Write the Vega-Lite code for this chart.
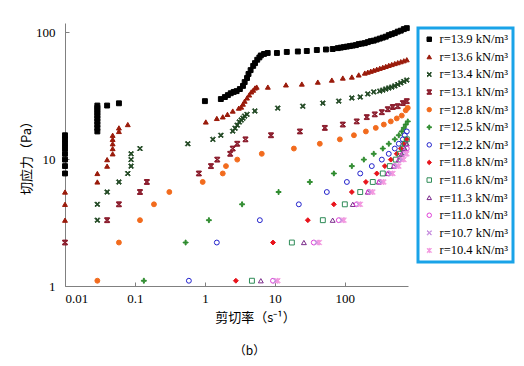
{
"$schema": "https://vega.github.io/schema/vega-lite/v6.json",
"width": 343, "height": 263,
"autosize": "none",
"padding": {"left": 65, "top": 23, "right": 116, "bottom": 80},
"background": "white",
"title": {"text": "（b）", "orient": "bottom", "anchor": "middle", "offset": 22, "dx": 13, "font": "Noto Sans CJK SC", "fontSize": 12, "fontWeight": "normal", "color": "#000"},
"config": {
  "view": {"stroke": null},
  "axis": {"grid": false, "domainColor": "#808080", "tickColor": "#808080", "labelFont": "Liberation Serif", "labelFontSize": 13, "labelColor": "#000", "titleFont": "Noto Sans CJK SC", "titleFontSize": 13, "titleFontWeight": "normal", "titleColor": "#000", "tickSize": -4},
  "legend": {"strokeColor": "#1AA3E8", "strokeWidth": 3, "padding": 5, "labelFont": "Liberation Serif", "labelFontSize": 12.5, "labelColor": "#000", "symbolSize": 20, "rowPadding": 4.6, "symbolStrokeWidth": 1}
},
"data": {"values": [
{"s":"13.9","x":0.01,"y":7.7},{"s":"13.9","x":0.01,"y":8.8},{"s":"13.9","x":0.01,"y":9.9},{"s":"13.9","x":0.01,"y":11},{"s":"13.9","x":0.01,"y":12.1},{"s":"13.9","x":0.01,"y":13.2},{"s":"13.9","x":0.01,"y":14.3},{"s":"13.9","x":0.01,"y":15.4},
{"s":"13.9","x":0.029,"y":16.5},{"s":"13.9","x":0.029,"y":17.6},{"s":"13.9","x":0.029,"y":18.7},{"s":"13.9","x":0.029,"y":19.8},{"s":"13.9","x":0.029,"y":20.9},{"s":"13.9","x":0.029,"y":22},{"s":"13.9","x":0.029,"y":23.1},{"s":"13.9","x":0.029,"y":24.2},{"s":"13.9","x":0.029,"y":25.3},{"s":"13.9","x":0.029,"y":26.4},
{"s":"13.9","x":0.04,"y":26.4},{"s":"13.9","x":0.059,"y":27.5},{"s":"13.9","x":1.0,"y":28.6},{"s":"13.9","x":1.69,"y":29.7},{"s":"13.9","x":1.93,"y":30.8},{"s":"13.9","x":2.13,"y":31.9},{"s":"13.9","x":2.34,"y":33},{"s":"13.9","x":2.58,"y":33.8},{"s":"13.9","x":2.84,"y":34.3},{"s":"13.9","x":3.16,"y":35.6},{"s":"13.9","x":3.5,"y":37.7},{"s":"13.9","x":3.7,"y":40.4},{"s":"13.9","x":4.0,"y":43.5},{"s":"13.9","x":4.2,"y":46.8},{"s":"13.9","x":4.5,"y":50.2},{"s":"13.9","x":4.9,"y":54.2},{"s":"13.9","x":5.2,"y":57},{"s":"13.9","x":5.6,"y":60.6},{"s":"13.9","x":6.0,"y":63.2},{"s":"13.9","x":6.3,"y":65.5},{"s":"13.9","x":7.0,"y":67.3},{"s":"13.9","x":7.9,"y":68.5},
{"s":"13.9","x":10.7,"y":68.5},{"s":"13.9","x":14.8,"y":69.8},{"s":"13.9","x":21.3,"y":70.4},{"s":"13.9","x":28.6,"y":71},{"s":"13.9","x":39.8,"y":72.3},{"s":"13.9","x":53.7,"y":73},{"s":"13.9","x":67,"y":73.6},
{"s":"13.9","x":79.4,"y":74.8},{"s":"13.9","x":87.7,"y":75.5},{"s":"13.9","x":96.8,"y":76.2},{"s":"13.9","x":107,"y":76.9},{"s":"13.9","x":118,"y":77.6},{"s":"13.9","x":130,"y":78.3},{"s":"13.9","x":144,"y":79},{"s":"13.9","x":158,"y":80.5},{"s":"13.9","x":175,"y":81.2},{"s":"13.9","x":193,"y":81.9},{"s":"13.9","x":213,"y":83.4},{"s":"13.9","x":235,"y":84.9},{"s":"13.9","x":259,"y":85.7},{"s":"13.9","x":286,"y":87.3},{"s":"13.9","x":316,"y":88.9},{"s":"13.9","x":349,"y":90.5},{"s":"13.9","x":385,"y":92.1},{"s":"13.9","x":425,"y":94.7},{"s":"13.9","x":469,"y":96.4},{"s":"13.9","x":518,"y":98.2},{"s":"13.9","x":571,"y":100.9},{"s":"13.9","x":631,"y":102.7},{"s":"13.9","x":697,"y":105.6},{"s":"13.9","x":769,"y":107.5},
{"s":"13.6","x":0.01,"y":3.3},{"s":"13.6","x":0.01,"y":4.4},{"s":"13.6","x":0.01,"y":5.5},{"s":"13.6","x":0.029,"y":6.6},{"s":"13.6","x":0.029,"y":7.7},{"s":"13.6","x":0.04,"y":8.8},{"s":"13.6","x":0.04,"y":9.9},{"s":"13.6","x":0.048,"y":11},{"s":"13.6","x":0.048,"y":12.1},{"s":"13.6","x":0.048,"y":13.2},{"s":"13.6","x":0.048,"y":14.3},{"s":"13.6","x":0.048,"y":15.4},{"s":"13.6","x":0.059,"y":16.5},{"s":"13.6","x":0.059,"y":17.6},{"s":"13.6","x":0.079,"y":18.7},
{"s":"13.6","x":1.03,"y":19.6},{"s":"13.6","x":1.48,"y":20.9},{"s":"13.6","x":1.8,"y":21.5},{"s":"13.6","x":2.1,"y":22.5},{"s":"13.6","x":2.5,"y":23.9},{"s":"13.6","x":3.05,"y":25.2},{"s":"13.6","x":3.3,"y":25.7},{"s":"13.6","x":3.5,"y":27.1},{"s":"13.6","x":3.7,"y":28.6},{"s":"13.6","x":4.0,"y":30.3},{"s":"13.6","x":4.3,"y":32},{"s":"13.6","x":4.6,"y":33.8},{"s":"13.6","x":4.9,"y":34.9},{"s":"13.6","x":5.2,"y":36.3},{"s":"13.6","x":5.5,"y":36.9},{"s":"13.6","x":7.94,"y":36.9},{"s":"13.6","x":14.4,"y":38.4},{"s":"13.6","x":24.3,"y":39},{"s":"13.6","x":41.1,"y":40.4},{"s":"13.6","x":65.2,"y":41.9},{"s":"13.6","x":93.6,"y":43.5},{"s":"13.6","x":126,"y":44.3},{"s":"13.6","x":158,"y":46},{"s":"13.6","x":193,"y":47.6},{"s":"13.6","x":213,"y":48.4},{"s":"13.6","x":235,"y":49.2},{"s":"13.6","x":259,"y":50.1},{"s":"13.6","x":286,"y":51},{"s":"13.6","x":316,"y":51.9},{"s":"13.6","x":349,"y":52.8},{"s":"13.6","x":385,"y":53.7},{"s":"13.6","x":425,"y":54.7},{"s":"13.6","x":469,"y":55.6},{"s":"13.6","x":518,"y":56.6},{"s":"13.6","x":571,"y":57.5},{"s":"13.6","x":631,"y":58.5},{"s":"13.6","x":697,"y":59.5},{"s":"13.6","x":769,"y":60.6},
{"s":"13.4","x":0.029,"y":3.3},{"s":"13.4","x":0.029,"y":4.4},{"s":"13.4","x":0.04,"y":5.5},{"s":"13.4","x":0.059,"y":6.6},{"s":"13.4","x":0.079,"y":7.7},{"s":"13.4","x":0.088,"y":8.8},{"s":"13.4","x":0.088,"y":9.9},{"s":"13.4","x":0.088,"y":11},{"s":"13.4","x":0.118,"y":12.1},{"s":"13.4","x":0.57,"y":13.2},{"s":"13.4","x":1.3,"y":14.3},{"s":"13.4","x":1.69,"y":15.4},{"s":"13.4","x":2.5,"y":16.6},{"s":"13.4","x":2.7,"y":17.5},{"s":"13.4","x":2.9,"y":18.5},{"s":"13.4","x":3.1,"y":19.6},{"s":"13.4","x":3.3,"y":20.3},{"s":"13.4","x":3.5,"y":21},{"s":"13.4","x":3.7,"y":21.8},{"s":"13.4","x":4.0,"y":22.5},{"s":"13.4","x":5.18,"y":23.9},{"s":"13.4","x":11,"y":25.2},{"s":"13.4","x":25.1,"y":26.1},{"s":"13.4","x":48.5,"y":27.6},{"s":"13.4","x":82,"y":28.6},{"s":"13.4","x":126,"y":30.3},{"s":"13.4","x":166,"y":30.8},{"s":"13.4","x":213,"y":32.6},{"s":"13.4","x":259,"y":33.8},{"s":"13.4","x":316,"y":34.3},{"s":"13.4","x":349,"y":34.9},{"s":"13.4","x":385,"y":35.6},{"s":"13.4","x":425,"y":36.3},{"s":"13.4","x":469,"y":36.9},{"s":"13.4","x":518,"y":37.7},{"s":"13.4","x":571,"y":38.7},{"s":"13.4","x":631,"y":39.8},{"s":"13.4","x":697,"y":40.9},{"s":"13.4","x":769,"y":41.9},
{"s":"13.1","x":0.01,"y":2.2},{"s":"13.1","x":0.04,"y":3.3},{"s":"13.1","x":0.059,"y":4.4},{"s":"13.1","x":0.118,"y":5.5},{"s":"13.1","x":0.148,"y":6.6},{"s":"13.1","x":0.82,"y":7.7},{"s":"13.1","x":1.22,"y":8.8},{"s":"13.1","x":1.5,"y":9.9},{"s":"13.1","x":2.3,"y":11},{"s":"13.1","x":2.5,"y":12.1},{"s":"13.1","x":2.9,"y":13.2},{"s":"13.1","x":3.8,"y":14.3},{"s":"13.1","x":8.8,"y":15.4},{"s":"13.1","x":22.8,"y":16.5},{"s":"13.1","x":51.8,"y":17.6},{"s":"13.1","x":93.6,"y":18.7},{"s":"13.1","x":148,"y":19.8},{"s":"13.1","x":206,"y":21.4},{"s":"13.1","x":268,"y":22.5},{"s":"13.1","x":338,"y":23.4},{"s":"13.1","x":411,"y":24.7},{"s":"13.1","x":485,"y":25.7},{"s":"13.1","x":571,"y":26.1},{"s":"13.1","x":675,"y":27.6},{"s":"13.1","x":769,"y":28.6},
{"s":"12.8","x":0.029,"y":1.1},{"s":"12.8","x":0.059,"y":2.2},{"s":"12.8","x":0.118,"y":3.3},{"s":"12.8","x":0.187,"y":4.4},{"s":"12.8","x":0.31,"y":5.5},{"s":"12.8","x":0.93,"y":6.6},{"s":"12.8","x":1.8,"y":7.7},{"s":"12.8","x":2.0,"y":8.8},{"s":"12.8","x":2.9,"y":9.9},{"s":"12.8","x":6.5,"y":11},{"s":"12.8","x":18.7,"y":12.1},{"s":"12.8","x":43.9,"y":13.2},{"s":"12.8","x":84.9,"y":14.3},{"s":"12.8","x":135,"y":15.4},{"s":"12.8","x":200,"y":16.5},{"s":"12.8","x":277,"y":17.6},{"s":"12.8","x":361,"y":18.7},{"s":"12.8","x":454,"y":19.8},{"s":"12.8","x":553,"y":20.9},{"s":"12.8","x":652,"y":22},{"s":"12.8","x":743,"y":24.2},{"s":"12.8","x":794,"y":25.3},
{"s":"12.5","x":0.134,"y":1.1},{"s":"12.5","x":0.53,"y":2.2},{"s":"12.5","x":1.14,"y":3.3},{"s":"12.5","x":3.4,"y":4.4},{"s":"12.5","x":11.3,"y":5.5},{"s":"12.5","x":31.6,"y":6.6},{"s":"12.5","x":69.7,"y":7.7},{"s":"12.5","x":126,"y":8.8},{"s":"12.5","x":187,"y":9.9},{"s":"12.5","x":259,"y":11},{"s":"12.5","x":349,"y":12.1},{"s":"12.5","x":425,"y":13.2},{"s":"12.5","x":518,"y":14.3},{"s":"12.5","x":591,"y":15.4},{"s":"12.5","x":652,"y":16.5},{"s":"12.5","x":697,"y":17.6},{"s":"12.5","x":743,"y":18.7},{"s":"12.5","x":794,"y":19.8},
{"s":"12.2","x":0.59,"y":1.1},{"s":"12.2","x":1.48,"y":2.2},{"s":"12.2","x":6.1,"y":3.3},{"s":"12.2","x":22,"y":4.4},{"s":"12.2","x":55.3,"y":5.5},{"s":"12.2","x":107,"y":6.6},{"s":"12.2","x":166,"y":7.7},{"s":"12.2","x":243,"y":8.8},{"s":"12.2","x":338,"y":9.9},{"s":"12.2","x":425,"y":11},{"s":"12.2","x":518,"y":12.1},{"s":"12.2","x":591,"y":13.2},{"s":"12.2","x":675,"y":14.3},{"s":"12.2","x":720,"y":15.4},{"s":"12.2","x":769,"y":16.5},
{"s":"11.8","x":2.77,"y":1.1},{"s":"11.8","x":9.4,"y":2.2},{"s":"11.8","x":29.6,"y":3.3},{"s":"11.8","x":69.7,"y":4.4},{"s":"11.8","x":126,"y":5.5},{"s":"11.8","x":200,"y":6.6},{"s":"11.8","x":286,"y":7.7},{"s":"11.8","x":373,"y":8.8},{"s":"11.8","x":454,"y":9.9},{"s":"11.8","x":553,"y":11},{"s":"11.8","x":631,"y":12.1},{"s":"11.8","x":697,"y":13.2},{"s":"11.8","x":769,"y":14.3},
{"s":"11.6","x":4.7,"y":1.1},{"s":"11.6","x":17.5,"y":2.2},{"s":"11.6","x":48.5,"y":3.3},{"s":"11.6","x":100,"y":4.4},{"s":"11.6","x":166,"y":5.5},{"s":"11.6","x":251,"y":6.6},{"s":"11.6","x":349,"y":7.7},{"s":"11.6","x":440,"y":8.8},{"s":"11.6","x":535,"y":9.9},{"s":"11.6","x":611,"y":11},{"s":"11.6","x":675,"y":12.1},{"s":"11.6","x":720,"y":13.2},{"s":"11.6","x":769,"y":14.3},
{"s":"11.3","x":6.3,"y":1.1},{"s":"11.3","x":26,"y":2.2},{"s":"11.3","x":67,"y":3.3},{"s":"11.3","x":130,"y":4.4},{"s":"11.3","x":213,"y":5.5},{"s":"11.3","x":306,"y":6.6},{"s":"11.3","x":411,"y":7.7},{"s":"11.3","x":501,"y":8.8},{"s":"11.3","x":591,"y":9.9},{"s":"11.3","x":652,"y":11},{"s":"11.3","x":720,"y":12.1},{"s":"11.3","x":769,"y":13.2},
{"s":"11.0","x":9.4,"y":1.1},{"s":"11.0","x":36,"y":2.2},{"s":"11.0","x":82,"y":3.3},{"s":"11.0","x":148,"y":4.4},{"s":"11.0","x":220,"y":5.5},{"s":"11.0","x":316,"y":6.6},{"s":"11.0","x":425,"y":7.7},{"s":"11.0","x":518,"y":8.8},{"s":"11.0","x":611,"y":9.9},{"s":"11.0","x":697,"y":11},{"s":"11.0","x":769,"y":12.1},
{"s":"10.7","x":10.3,"y":1.1},{"s":"10.7","x":39.8,"y":2.2},{"s":"10.7","x":91,"y":3.3},{"s":"10.7","x":158,"y":4.4},{"s":"10.7","x":235,"y":5.5},{"s":"10.7","x":338,"y":6.6},{"s":"10.7","x":454,"y":7.7},{"s":"10.7","x":553,"y":8.8},{"s":"10.7","x":652,"y":9.9},{"s":"10.7","x":743,"y":11},
{"s":"10.4","x":11,"y":1.1},{"s":"10.4","x":43,"y":2.2},{"s":"10.4","x":97,"y":3.3},{"s":"10.4","x":166,"y":4.4},{"s":"10.4","x":251,"y":5.5},{"s":"10.4","x":361,"y":6.6},{"s":"10.4","x":485,"y":7.7},{"s":"10.4","x":591,"y":8.8},{"s":"10.4","x":697,"y":9.9},{"s":"10.4","x":769,"y":11}
]},
"mark": {"type": "point", "size": 24, "strokeWidth": 1, "opacity": 1},
"encoding": {
  "x": {"field": "x", "type": "quantitative", "scale": {"type": "log", "domain": [0.01, 800], "nice": false},
        "axis": {"values": [0.01, 0.1, 1, 10, 100], "format": "~g", "labelPadding": 10, "title": "剪切率（s⁻¹）", "titleX": 190, "titleAlign": "center", "titlePadding": 6}},
  "y": {"field": "y", "type": "quantitative", "scale": {"type": "log", "domain": [1, 118], "nice": false},
        "axis": {"values": [1, 10, 100], "format": "~g", "labelPadding": 14, "title": "切应力（Pa）", "titlePadding": 2}},
  "fill": {"field": "s", "type": "nominal",
    "scale": {"domain": ["13.9","13.6","13.4","13.1","12.8","12.5","12.2","11.8","11.6","11.3","11.0","10.7","10.4"],
              "range": ["#000000","#9A1A0A","#1E4620","#8B1C2C","#F26B1D","#2E8B2E","transparent","#E8131B","transparent","transparent","transparent","#C890E0","#F49AE0"]},
    "legend": {"orient": "none", "legendX": 353, "legendY": 5, "title": null, "labelFont": "Liberation Serif", "labelFontSize": 12.5, "labelExpr": "'r=' + datum.label + ' kN/m³'"}},
  "stroke": {"field": "s", "type": "nominal",
    "scale": {"domain": ["13.9","13.6","13.4","13.1","12.8","12.5","12.2","11.8","11.6","11.3","11.0","10.7","10.4"],
              "range": ["#000000","#9A1A0A","#1E4620","#8B1C2C","#F26B1D","#2E8B2E","#2222CC","#E8131B","#2E8B57","#7A2A8A","#E040D8","#C890E0","#F49AE0"]},
    "legend": {"orient": "none", "legendX": 353, "legendY": 5, "title": null, "labelFont": "Liberation Serif", "labelFontSize": 12.5, "labelExpr": "'r=' + datum.label + ' kN/m³'"}},
  "shape": {"field": "s", "type": "nominal",
    "scale": {"domain": ["13.9","13.6","13.4","13.1","12.8","12.5","12.2","11.8","11.6","11.3","11.0","10.7","10.4"],
              "range": ["square","triangle-up",
                "M-1,-0.7L-0.7,-1L0,-0.3L0.7,-1L1,-0.7L0.3,0L1,0.7L0.7,1L0,0.3L-0.7,1L-1,0.7L-0.3,0Z",
                "M-1,-1H1V-0.65H-1Z M-1,0.65H1V1H-1Z M-0.85,-0.6L-0.5,-0.6L0,-0.15L0.5,-0.6L0.85,-0.6L0.3,0L0.85,0.6L0.5,0.6L0,0.15L-0.5,0.6L-0.85,0.6L-0.3,0Z",
                "circle",
                "M-0.2,-1H0.2V-0.2H1V0.2H0.2V1H-0.2V0.2H-1V-0.2H-0.2Z",
                "circle","diamond","square","triangle-up","circle",
                "M-1,-0.8L-0.8,-1L0,-0.2L0.8,-1L1,-0.8L0.2,0L1,0.8L0.8,1L0,0.2L-0.8,1L-1,0.8L-0.2,0Z",
                "M-1,-0.8L-0.8,-1L0,-0.2L0.8,-1L1,-0.8L0.2,0L1,0.8L0.8,1L0,0.2L-0.8,1L-1,0.8L-0.2,0Z M-0.12,-1H0.12V1H-0.12Z"]},
    "legend": {"orient": "none", "legendX": 353, "legendY": 5, "title": null, "labelFont": "Liberation Serif", "labelFontSize": 12.5, "labelExpr": "'r=' + datum.label + ' kN/m³'"}}
}
}
